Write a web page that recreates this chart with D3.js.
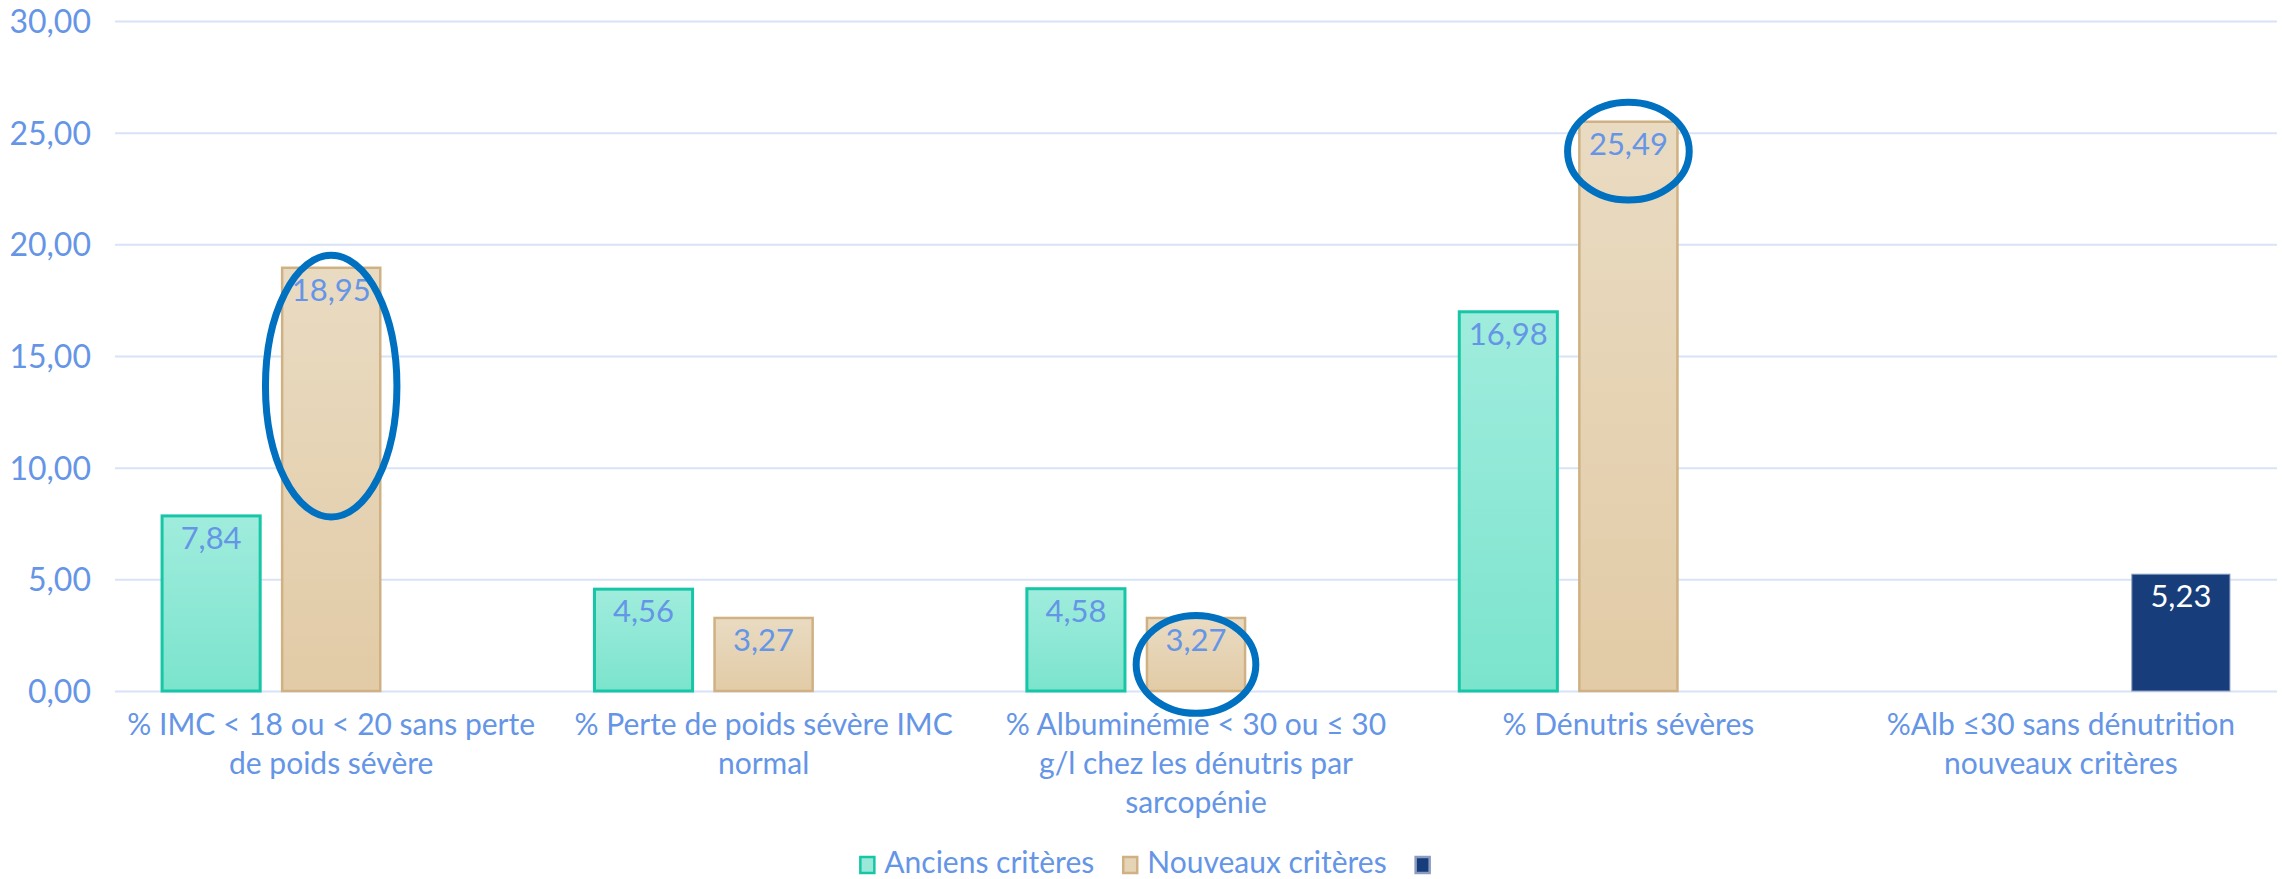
<!DOCTYPE html>
<html>
<head>
<meta charset="utf-8">
<script src="https://cdn.jsdelivr.net/npm/d3@7"></script>
<style>
  body { margin: 0; background: #fff; }
  svg { display: block; font-family: Lato, 'Open Sans', sans-serif; }
</style>
</head>
<body>
<div id="chart"></div>
<script>
// ---- data ----
const categoryLines = [
  ['% IMC < 18 ou < 20 sans perte', 'de poids sévère'],
  ['% Perte de poids sévère IMC', 'normal'],
  ['% Albuminémie < 30 ou ≤ 30', 'g/l chez les dénutris par', 'sarcopénie'],
  ['% Dénutris sévères'],
  ['%Alb ≤30 sans dénutrition', 'nouveaux critères']
];
const categories = categoryLines.map(l => l.join(' '));
const seriesNames = ['Anciens critères', 'Nouveaux critères', ''];
const anciens = [7.84, 4.56, 4.58, 16.98, null];
const nouveaux = [18.95, 3.27, 3.27, 25.49, null];
const albSansDenut = [null, null, null, null, 5.23];
const yTicks = [0, 5, 10, 15, 20, 25, 30];

// hand-drawn circles: category, series, centre value, half height (in %)
const highlights = [
  { cat: 0, series: 1, mid: 13.65, half: 5.86, rx: 0.67 },
  { cat: 3, series: 1, mid: 24.17, half: 2.19, rx: 0.62 },
  { cat: 2, series: 1, mid: 1.19, half: 2.19, rx: 0.61 }
];

const W = 2282, H = 879;
const margin = { top: 21, right: 5, bottom: 188, left: 115 };
const width = W - margin.left - margin.right;
const height = H - margin.top - margin.bottom;

const textColour = '#6595e6';
const gridColour = '#d8e3f8';
const fontFamily = "Lato, 'Open Sans', sans-serif";

const fr = d3.formatLocale({ decimal: ',', thousands: ' ', grouping: [3], currency: ['', '€'] });
const fmt = fr.format('.2f');

const seriesValues = [anciens, nouveaux, albSansDenut];
const series = seriesNames.map((name, i) => ({ name, i, values: seriesValues[i] }));

const $svg = d3.select('#chart').append('svg')
  .attr('width', W)
  .attr('height', H);

// gradients
const defs = $svg.append('defs');
const grads = [
  { id: 'g0', top: '#a0ecdd', bottom: '#7be4cc' },
  { id: 'g1', top: '#e9dbc2', bottom: '#e2cba6' }
];
grads.forEach(g => {
  const lg = defs.append('linearGradient')
    .attr('id', g.id).attr('x1', 0).attr('y1', 0).attr('x2', 0).attr('y2', 1);
  lg.append('stop').attr('offset', '0%').attr('stop-color', g.top);
  lg.append('stop').attr('offset', '100%').attr('stop-color', g.bottom);
});
const fills = ['url(#g0)', 'url(#g1)', '#173e7b'];
const strokes = ['#16c6a6', '#cfb183', '#8a9cc0'];
const strokeW = [3, 2.5, 1];
const swatch = ['#9ae8d8', '#e6d4b6', '#173e7b'];

const $plot = $svg.append('g')
  .attr('transform', `translate(${margin.left}, ${margin.top})`);

// scales
const x0 = d3.scaleBand()
  .domain(categories)
  .range([0, width]);

const x1 = d3.scaleBand()
  .domain(series.map(s => s.i))
  .range([0, x0.bandwidth()])
  .paddingInner(0.183)
  .paddingOuter(0.392);

const y = d3.scaleLinear()
  .domain([0, 30])
  .range([height, 0]);

// y axis + grid
$plot.append('g')
  .attr('class', 'axis y')
  .call(d3.axisLeft(y).tickValues(yTicks).tickFormat(fmt).tickSize(-width).tickPadding(24))
  .attr('font-family', fontFamily)
  .call(g => g.select('.domain').remove())
  .call(g => g.selectAll('.tick line').attr('stroke', gridColour).attr('stroke-width', 2))
  .call(g => g.selectAll('.tick text')
    .attr('fill', textColour)
    .attr('font-size', 32)
    .attr('dy', '0.36em'));

// x axis
$plot.append('g')
  .attr('class', 'axis x')
  .attr('transform', `translate(0, ${height})`)
  .call(d3.axisBottom(x0).tickSize(0).tickPadding(0))
  .attr('font-family', fontFamily)
  .call(g => g.select('.domain').remove())
  .call(g => g.selectAll('.tick text')
    .attr('fill', textColour)
    .attr('font-size', 30)
    .attr('y', 0)
    .attr('dy', null)
    .each(function (d, i) {
      const t = d3.select(this).text(null);
      categoryLines[i].forEach((line, j) => {
        t.append('tspan')
          .attr('x', 0)
          .attr('y', 44 + j * 39)
          .text(line);
      });
    }));

// bars
const $groups = $plot.append('g')
  .selectAll('.group')
  .data(categories)
  .enter()
  .append('g')
  .attr('class', 'group')
  .attr('transform', d => `translate(${x0(d)}, 0)`);

const barData = (c, ci) => series
  .filter(s => s.values[ci] != null)
  .map(s => ({ s: s.i, value: s.values[ci] }));

$groups.selectAll('rect')
  .data((c, ci) => barData(c, ci))
  .enter()
  .append('rect')
  .attr('x', d => x1(d.s))
  .attr('y', d => y(d.value))
  .attr('width', x1.bandwidth())
  .attr('height', d => y(0) - y(d.value))
  .attr('fill', d => fills[d.s])
  .attr('stroke', d => strokes[d.s])
  .attr('stroke-width', d => strokeW[d.s]);

$groups.selectAll('.value')
  .data((c, ci) => barData(c, ci))
  .enter()
  .append('text')
  .attr('class', 'value')
  .attr('x', d => x1(d.s) + x1.bandwidth() / 2)
  .attr('y', d => y(d.value) + 33)
  .attr('text-anchor', 'middle')
  .attr('font-size', 31)
  .attr('fill', d => d.s === 2 ? '#ffffff' : textColour)
  .text(d => fmt(d.value));

// highlight ellipses
$plot.append('g')
  .selectAll('ellipse')
  .data(highlights)
  .enter()
  .append('ellipse')
  .attr('cx', d => x0(categories[d.cat]) + x1(d.series) + x1.bandwidth() / 2)
  .attr('cy', d => y(d.mid))
  .attr('rx', d => x1.bandwidth() * d.rx)
  .attr('ry', d => y(0) - y(d.half))
  .attr('fill', 'none')
  .attr('stroke', '#0070c0')
  .attr('stroke-width', 7);

// legend
const $legend = $svg.append('g').attr('class', 'legend');
let lx = 0;
series.forEach((s, i) => {
  const item = $legend.append('g').attr('transform', `translate(${lx}, 0)`);
  item.append('rect')
    .attr('x', 1).attr('y', -16)
    .attr('width', 14).attr('height', 16)
    .attr('fill', swatch[i])
    .attr('stroke', strokes[i])
    .attr('stroke-width', 2.5);
  const t = item.append('text')
    .attr('x', 25)
    .attr('y', 0)
    .attr('font-size', 30)
    .attr('fill', textColour)
    .text(s.name);
  const tw = s.name ? t.node().getComputedTextLength() : 0;
  lx += 25 + tw + (s.name ? 28 : 0);
});
const legendWidth = lx - 9;
$legend.attr('transform', `translate(${W / 2 - legendWidth / 2 + 4}, 873)`);
</script>
</body>
</html>
